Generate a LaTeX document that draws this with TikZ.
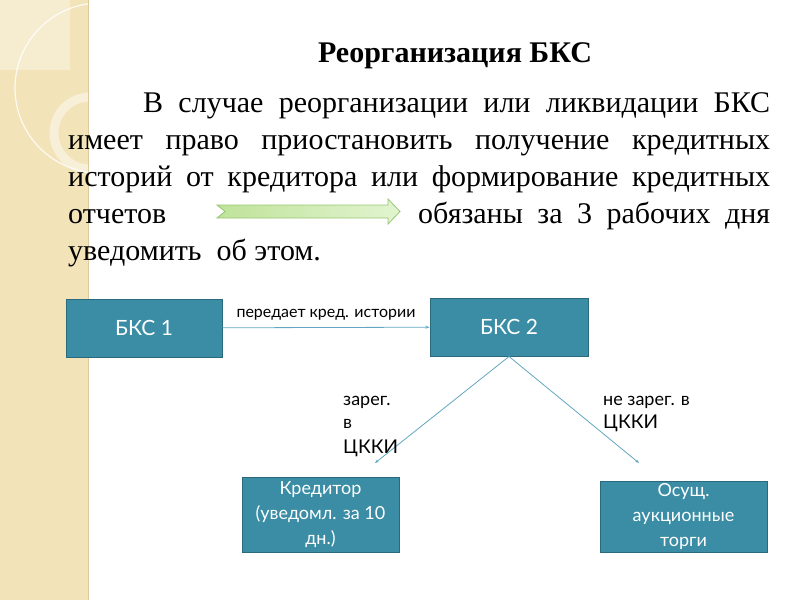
\documentclass[tikz,border=0pt]{standalone}
\usepackage{fontspec}
\setmainfont{Liberation Serif}
\newfontfamily\boxfont{Lato}
\usetikzlibrary{arrows.meta}
\definecolor{beige}{HTML}{F2E3B8}
\definecolor{beigeedge}{HTML}{DCCB9E}
\definecolor{teal}{HTML}{3A8DA4}
\definecolor{tealdark}{HTML}{2B6A7C}
\definecolor{connblue}{HTML}{62A6C2}
\definecolor{greenA}{HTML}{BFE39A}
\definecolor{greenB}{HTML}{E2F4D0}
\definecolor{greenEdge}{HTML}{98C572}
\tikzset{
  tbox/.style={rectangle, fill=teal, draw=tealdark, line width=1pt, text=white,
    font=\boxfont, align=center, inner sep=2pt},
  conn/.style={draw=connblue, line width=0.8pt, -{Stealth[length=4pt,width=3pt]}},
  lbl/.style={font=\boxfont\fontsize{16}{18}\selectfont, text=black},
  brlbl/.style={font=\boxfont\fontsize{18}{20}\selectfont, text=black, anchor=base west, inner sep=0pt},
  body/.style={font=\fontsize{30}{37}\selectfont, anchor=base west, inner sep=0pt}
}
\begin{document}
\begin{tikzpicture}[x=1pt,y=-1pt]
\useasboundingbox (0,0) rectangle (800,600);
% left decorative band
\fill[beige] (0,0) rectangle (88,600);
\draw[beigeedge, line width=1.5pt] (88.5,0) -- (88.5,600);
\begin{scope}
  \clip (0,0) rectangle (88,600);
  \fill[white, opacity=0.35] (0,0) rectangle (70,70);
  \draw[white, line width=1.2pt, opacity=0.85] (100,88) circle (85);
  \draw[white, line width=9pt, opacity=0.45] (90,133) circle (36);
\end{scope}
% title
\node[font=\bfseries\fontsize{30}{34}\selectfont, anchor=base, inner sep=0pt] (title) at (455,62) {Реорганизация БКС};
% paragraph
\node[body] (l1) at (143,112) {\hbox to 627pt{В случае реорганизации или ликвидации БКС}};
\node[body] (l2) at (68,149) {\hbox to 702pt{имеет право приостановить получение кредитных}};
\node[body] (l3) at (68,186) {\hbox to 702pt{историй от кредитора или формирование кредитных}};
\node[body] (l4a) at (68,223) {отчетов};
\node[body] (l4b) at (418,223) {\hbox to 352pt{обязаны за 3 рабочих дня}};
\node[body] (l5) at (68,260) {уведомить\ \ об этом.};
% green arrow
\shade[left color=greenA, right color=greenB, draw=greenEdge, line width=0.8pt]
  (217,205) -- (388,205) -- (388,199) -- (400,211.5) -- (388,224) -- (388,218)
  -- (217,218) -- (225,211.5) -- cycle;
% boxes
\node[tbox, minimum width=156pt, minimum height=58pt, font=\boxfont\fontsize{21}{24}\selectfont] (b1) at (144,328) {БКС 1};
\node[tbox, minimum width=158pt, minimum height=58pt, font=\boxfont\fontsize{21}{24}\selectfont] (b2) at (509,327) {БКС 2};
\node[tbox, minimum width=157pt, minimum height=75pt, font=\boxfont\fontsize{18}{25}\selectfont] (kred) at (320.5,514.5) {Кредитор\\(уведомл. за 10\\дн.)};
\node[tbox, minimum width=167pt, minimum height=70pt, font=\boxfont\fontsize{18}{25}\selectfont] (osu) at (683.5,517) {Осущ.\\аукционные\\торги};
% connectors
\draw[conn] (b1) -- node[lbl, above=3pt] (lt) {передает кред. истории} (b2);
\coordinate (endL) at (375,463);
\coordinate (endR) at (639,463);
\draw[conn] (b2.south) -- (endL);
\draw[conn] (b2.south) -- (endR);
% branch labels
\node[brlbl] (z1) at (343,405) {зарег.};
\node[brlbl] (z2) at (343,428) {в};
\node[brlbl, font=\boxfont\fontsize{19}{20}\selectfont] (z3) at (343,453) {ЦККИ};
\node[brlbl] (n1) at (603,405) {не зарег. в};
\node[brlbl, font=\boxfont\fontsize{19}{20}\selectfont] (n2) at (603,428) {ЦККИ};
\end{tikzpicture}
\end{document}
